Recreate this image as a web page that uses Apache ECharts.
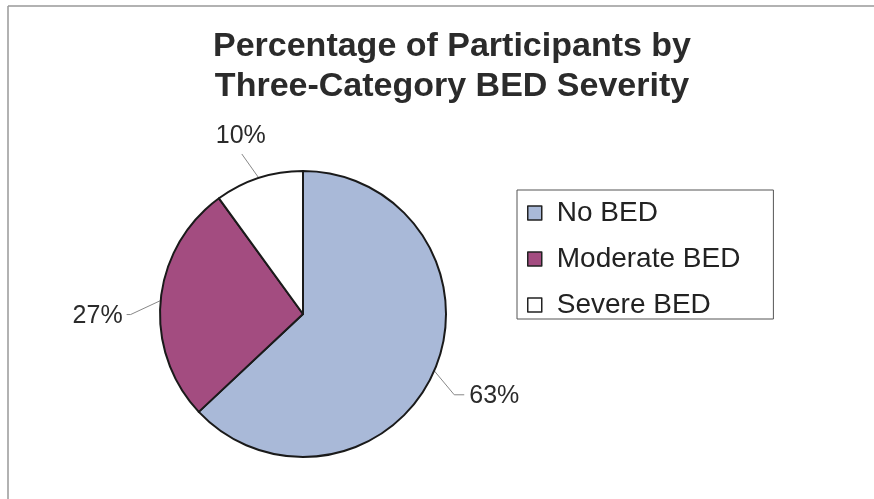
<!DOCTYPE html>
<html>
<head>
<meta charset="utf-8">
<script src="https://cdn.jsdelivr.net/npm/echarts@6/dist/echarts.min.js"></script>
<style>
  html, body { margin: 0; padding: 0; background: #fff; }
  #chart { width: 874px; height: 499px; }
</style>
</head>
<body>
<div id="chart"></div>
<script>
const categories = ['No BED', 'Moderate BED', 'Severe BED']
const percents = [63, 27, 10]
const sliceColors = ['#a9b9d8', '#a34c80', '#ffffff']

// leader line shape per label: bend from the slice edge, short tail, then where the text sits
const leaders = [
  { bend: [20, 24], tail: [10, 0], text: [5, 1], align: 'left', vAlign: 'middle' },
  { bend: [-30, 14], tail: [-4, 0], text: [-4, 2], align: 'right', vAlign: 'middle' },
  { bend: [-17, -24], tail: [0, 0], text: [-1, -5], align: 'center', vAlign: 'bottom' }
]

const chart = echarts.init(document.getElementById('chart'))

chart.setOption({
  backgroundColor: '#fff',
  animation: false,
  title: {
    text: 'Percentage of Participants by\nThree-Category BED Severity',
    left: 447,
    top: 22,
    textAlign: 'center',
    textStyle: {
      fontFamily: 'Liberation Sans, Arial',
      fontSize: 34,
      fontWeight: 'bold',
      lineHeight: 40,
      color: '#2b2b2b'
    }
  },
  legend: {
    orient: 'vertical',
    left: 517,
    top: 190,
    padding: [9, 33, 0, 10],
    itemGap: 18,
    itemWidth: 14,
    itemHeight: 14,
    icon: 'rect',
    borderColor: '#555',
    borderWidth: 1,
    data: categories,
    itemStyle: {
      borderColor: '#222',
      borderWidth: 1.5
    },
    textStyle: {
      fontFamily: 'Liberation Sans, Arial',
      fontSize: 28,
      color: '#222',
      padding: [0, 0, 0, 10]
    }
  },
  graphic: [
    { type: 'line', shape: { x1: 8, y1: 6, x2: 874, y2: 6 }, style: { stroke: '#999', lineWidth: 1.5 } },
    { type: 'line', shape: { x1: 8, y1: 6, x2: 8, y2: 499 }, style: { stroke: '#999', lineWidth: 1.5 } }
  ],
  series: [
    {
      type: 'pie',
      center: [303, 314],
      radius: 143,
      startAngle: 90,
      clockwise: true,
      data: categories.map((name, i) => ({
        name: name,
        value: percents[i],
        itemStyle: { color: sliceColors[i] }
      })),
      itemStyle: {
        borderColor: '#1a1a1a',
        borderWidth: 2
      },
      label: {
        show: true,
        position: 'outside',
        formatter: '{c}%',
        fontFamily: 'Liberation Sans, Arial',
        fontSize: 25,
        color: '#2b2b2b'
      },
      labelLine: {
        show: true,
        length: 20,
        length2: 0,
        lineStyle: { color: '#888', width: 1 }
      },
      labelLayout: function (params) {
        const pts = params.labelLinePoints
        if (!pts) return {}
        const l = leaders[params.dataIndex]
        const start = pts[0]
        const bend = [start[0] + l.bend[0], start[1] + l.bend[1]]
        const end = [bend[0] + l.tail[0], bend[1] + l.tail[1]]
        return {
          x: end[0] + l.text[0],
          y: end[1] + l.text[1],
          align: l.align,
          verticalAlign: l.vAlign,
          labelLinePoints: [start, bend, end]
        }
      },
      emphasis: { disabled: true }
    }
  ]
})
</script>
</body>
</html>
